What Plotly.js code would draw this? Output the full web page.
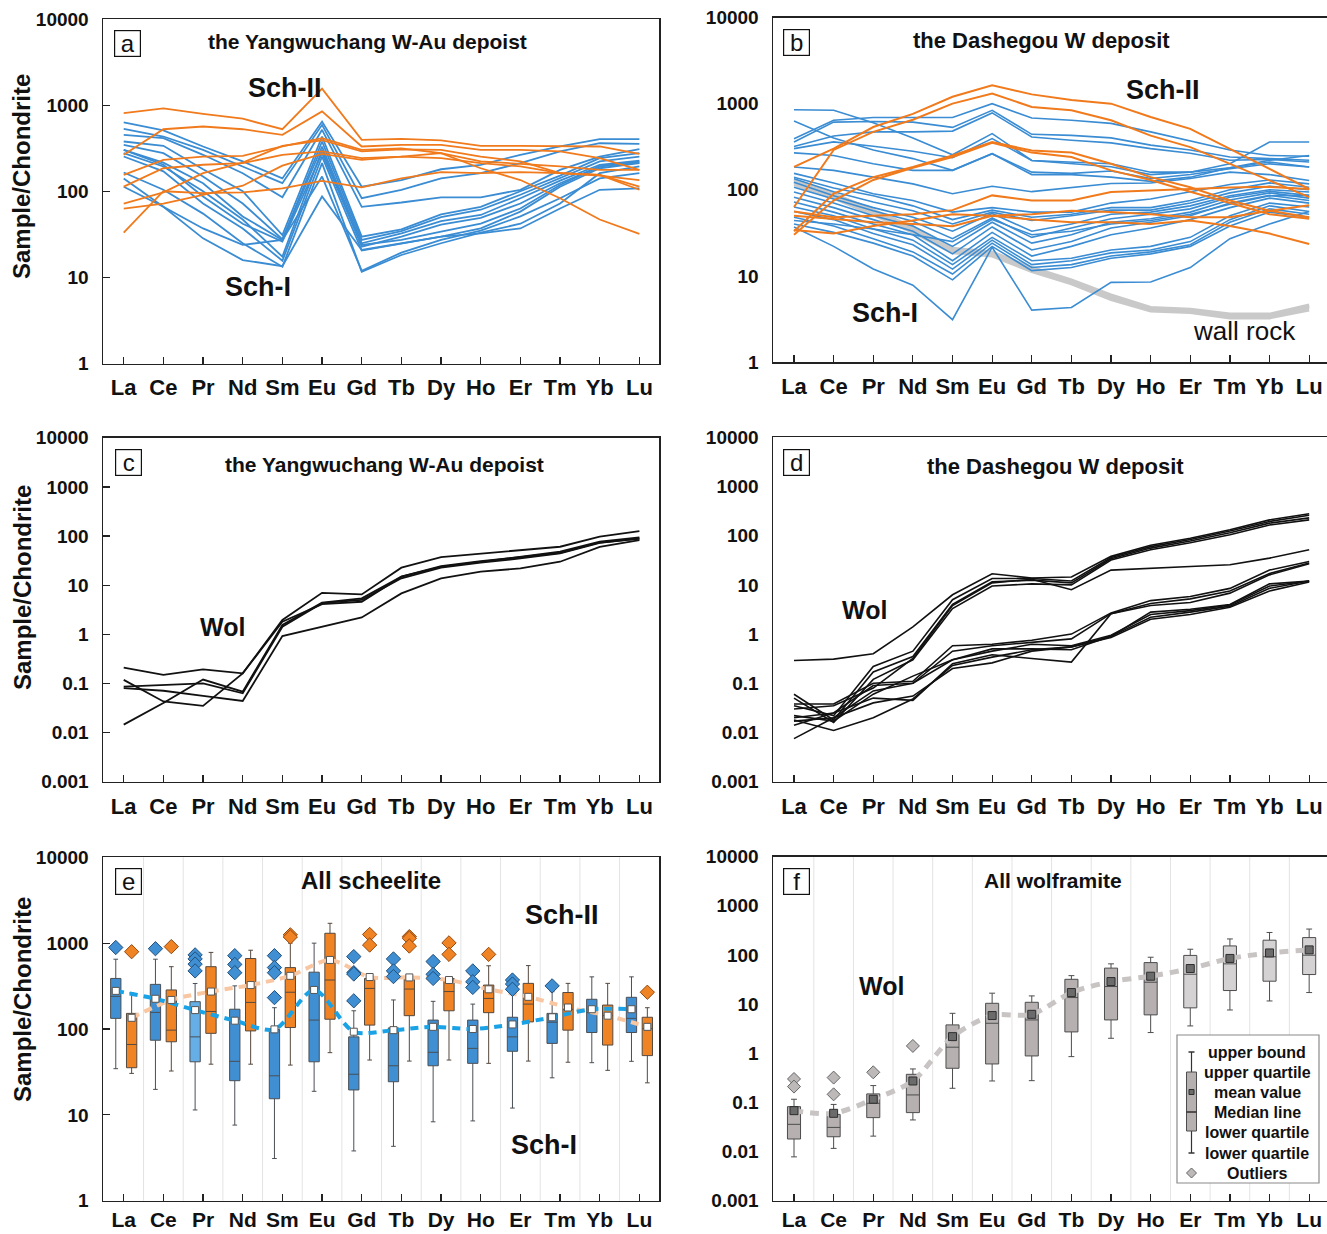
<!DOCTYPE html>
<html>
<head>
<meta charset="utf-8">
<script src="https://cdn.plot.ly/plotly-3.0.1.min.js"></script>
<style>html,body{margin:0;padding:0;background:#fff}</style>
</head>
<body>
<div id="chart" style="width:1327px;height:1234px"></div>
<script>
// ---------- data: chondrite-normalised REE ----------
const ree = ['La','Ce','Pr','Nd','Sm','Eu','Gd','Tb','Dy','Ho','Er','Tm','Yb','Lu'];

// (a) Yangwuchang scheelite
const yangSchI = [
  [629, 510, 331, 222, 141, 645, 113, 135, 180, 203, 265, 331, 402, 402],
  [530, 432, 302, 194, 124, 590, 83, 104, 141, 162, 212, 290, 361, 355],
  [452, 413, 265, 162, 85, 517, 66, 74, 85, 85, 104, 177, 253, 308],
  [378, 337, 180, 100, 31, 432, 29.7, 36, 54, 66, 100, 152, 242, 277],
  [346, 277, 148, 72, 27.7, 378, 27.2, 34.5, 50, 61, 91, 141, 222, 253],
  [302, 215, 124, 51, 27.2, 331, 24.9, 32.5, 45, 53, 83, 133, 203, 227],
  [277, 194, 100, 47, 17.4, 302, 22.7, 29.7, 41, 49, 72, 124, 194, 222],
  [253, 170, 72, 37, 15.6, 253, 20.5, 24.9, 29.7, 37, 58, 113, 185, 212],
  [165, 104, 55, 24.9, 13.3, 212, 11.6, 18.2, 24.9, 33, 42, 72, 162, 194],
  [141, 66, 37, 23.8, 27.2, 148, 11.9, 19.4, 27.2, 35, 51, 83, 141, 162],
  [113, 66, 28.4, 15.9, 13.5, 87, 20.8, 24.9, 29.7, 32.5, 37, 63, 104, 108],
  [302, 203, 87, 42, 26, 277, 23.8, 27.2, 34, 42, 63, 118, 194, 215]
];
const yangSchII = [
  [807, 915, 790, 695, 525, 1550, 395, 405, 390, 337, 337, 337, 331, 272],
  [265, 525, 565, 525, 452, 845, 331, 346, 346, 302, 302, 290, 242, 177],
  [113, 185, 203, 212, 265, 290, 242, 253, 277, 222, 208, 194, 177, 177],
  [72, 97, 162, 215, 337, 391, 290, 307, 302, 253, 222, 162, 155, 113],
  [63, 72, 91, 116, 198, 272, 231, 253, 242, 212, 194, 162, 155, 104],
  [33, 100, 95, 97, 108, 132, 111, 141, 167, 162, 167, 162, 152, 135],
  [155, 231, 253, 258, 331, 413, 302, 315, 277, 185, 135, 83, 47, 32]
];

// (b) Dashegou scheelite and wall rock
const dashWallRock = [
  [130, 90, 58, 37, 21, 19, 12.5, 9.0, 6.0, 4.3, 4.1, 3.6, 3.6, 4.6],
  [122, 84, 54, 34, 19.5, 17.8, 11.8, 8.5, 5.6, 4.1, 3.9, 3.4, 3.4, 4.3],
  [115, 80, 51, 32, 18.5, 17, 11.2, 8.1, 5.3, 3.9, 3.75, 3.25, 3.25, 4.0],
  [126, 87, 56, 35, 20, 18.4, 12.1, 8.7, 5.8, 4.2, 4.0, 3.5, 3.5, 4.45]
];
const dashSchI = [
  [850, 836, 600, 400, 255, 448, 219, 210, 200, 160, 160, 180, 220, 250],
  [630, 400, 290, 230, 168, 262, 150, 150, 140, 125, 140, 180, 210, 184],
  [392, 640, 690, 690, 690, 1000, 680, 640, 590, 470, 370, 290, 250, 245],
  [358, 610, 620, 610, 530, 836, 440, 428, 400, 330, 290, 240, 230, 220],
  [318, 420, 470, 470, 480, 780, 410, 375, 350, 300, 265, 220, 225, 210],
  [300, 360, 320, 280, 235, 392, 219, 200, 185, 150, 160, 200, 358, 358],
  [268, 250, 200, 168, 168, 262, 160, 155, 165, 135, 150, 175, 200, 184],
  [184, 168, 140, 117, 90, 110, 95, 105, 118, 120, 135, 160, 150, 128],
  [155, 120, 90, 75, 55, 62, 55, 55, 70, 78, 95, 115, 130, 117],
  [140, 105, 85, 65, 45, 58, 48, 52, 62, 62, 75, 100, 120, 107],
  [134, 95, 72, 57, 40, 55, 44, 50, 58, 58, 70, 92, 110, 100],
  [122, 85, 62, 48, 33, 53, 33, 40, 52, 55, 65, 85, 100, 94],
  [107, 78, 57, 43, 27, 47, 28, 36, 46, 52, 60, 82, 96, 86],
  [94, 70, 50, 38, 22, 42, 24, 30, 42, 46, 55, 76, 92, 80],
  [82, 62, 45, 33, 18, 37, 20, 25, 36, 42, 50, 70, 86, 75],
  [72, 55, 40, 30, 15, 32, 17, 22, 30, 36, 45, 62, 80, 70],
  [63, 50, 35, 26, 13.5, 28, 15, 16, 20, 22, 28, 50, 70, 63],
  [56, 45, 31, 23, 12, 26, 13.5, 15, 18.5, 20, 25, 45, 65, 56],
  [48, 38, 27, 19, 10.5, 24, 12.5, 13.5, 17, 19, 23, 42, 60, 52],
  [40, 32, 24, 17, 9, 22, 11.5, 12.5, 16, 18, 22, 38, 55, 48],
  [37, 22, 12, 7.8, 3.1, 21.5, 4.0, 4.3, 8.4, 8.5, 12.5, 27, 40, 56],
  [44, 40, 35, 30, 25, 45, 30, 33, 40, 44, 52, 68, 85, 86]
];
const dashSchII = [
  [184, 300, 535, 760, 1200, 1634, 1280, 1100, 1000, 700, 510, 300, 175, 102],
  [63, 290, 470, 650, 1000, 1307, 915, 836, 640, 425, 313, 200, 128, 82],
  [33, 90, 140, 184, 250, 358, 285, 270, 200, 140, 107, 75, 57, 48],
  [30, 75, 130, 180, 240, 350, 270, 240, 168, 130, 95, 70, 52, 46],
  [56, 48, 50, 52, 58, 86, 75, 75, 94, 98, 102, 106, 108, 102],
  [34, 31, 38, 44, 52, 50, 52, 57, 55, 52, 48, 48, 57, 66],
  [50, 46, 42, 40, 37.7, 50, 45, 42, 42, 40, 44, 38, 31, 23.5]
];

// (c) Yangwuchang wolframite
const yangWol = [
  [0.21, 0.149, 0.194, 0.16, 1.96, 7.0, 6.5, 22.7, 37.4, 44, 52, 60.6, 97, 126],
  [0.118, 0.043, 0.035, 0.16, 1.8, 4.1, 4.6, 14.9, 24.5, 31, 37, 45.7, 74, 89],
  [0.0145, 0.04, 0.12, 0.068, 1.55, 4.4, 5.4, 14.9, 23.7, 30, 38, 48, 77, 94],
  [0.086, 0.093, 0.1, 0.063, 1.43, 4.3, 5.0, 13.8, 22.7, 28.7, 35, 44.5, 73, 89],
  [0.08, 0.071, 0.056, 0.044, 0.92, 1.43, 2.2, 6.8, 13.8, 18.8, 22, 30, 60, 83]
];

// (d) Dashegou wolframite
const dashWol = [
  [0.29, 0.31, 0.4, 1.4, 6.3, 16.8, 13.8, 14.5, 38, 64, 89, 132, 210, 280],
  [0.035, 0.022, 0.22, 0.45, 5.0, 13.5, 13.5, 12.0, 36, 60, 84, 125, 195, 260],
  [0.06, 0.018, 0.17, 0.35, 4.0, 11.5, 12.5, 11.0, 34, 56, 78, 115, 180, 230],
  [0.05, 0.016, 0.12, 0.3, 3.3, 9.5, 10.5, 10.0, 32, 52, 72, 105, 165, 210],
  [0.03, 0.035, 0.08, 0.32, 3.8, 11.0, 13.0, 8.0, 20, 22, 23.7, 25.7, 35, 52],
  [0.038, 0.038, 0.1, 0.11, 0.58, 0.62, 0.75, 1.0, 2.7, 4.8, 5.8, 8.5, 20, 30],
  [0.02, 0.025, 0.09, 0.1, 0.45, 0.58, 0.68, 0.8, 2.6, 4.2, 5.2, 7.5, 17, 28],
  [0.017, 0.02, 0.07, 0.1, 0.3, 0.5, 0.5, 0.48, 0.9, 2.8, 3.2, 4.0, 10.5, 12],
  [0.014, 0.025, 0.05, 0.045, 0.25, 0.38, 0.32, 0.27, 2.6, 3.8, 4.4, 6.8, 16, 27],
  [0.0075, 0.02, 0.04, 0.055, 0.2, 0.26, 0.45, 0.55, 0.85, 2.0, 2.5, 3.5, 7.5, 11.5],
  [0.018, 0.011, 0.02, 0.048, 0.23, 0.34, 0.48, 0.55, 0.9, 2.2, 2.8, 3.7, 8.5, 12],
  [0.022, 0.017, 0.06, 0.14, 0.3, 0.45, 0.62, 0.58, 0.95, 2.5, 3.0, 3.9, 9.5, 12]
];

// (e) all scheelite: box statistics per element
const schIUpper  = [650, 650, 339, 318, 177, 1000, 163, 218, 210, 195, 254, 272, 405, 405];
const schIQ3     = [388, 331, 208, 170, 99, 459, 81, 103, 127, 127, 137, 152, 222, 234];
const schIMedian = [240, 156, 81, 42, 28.5, 127, 29.7, 37.3, 53.5, 59.5, 81, 120, 155, 133];
const schIQ1     = [133, 74, 41.5, 25, 15.4, 41.5, 19.5, 24.3, 37.3, 39.8, 55, 68, 91, 91];
const schILower  = [34.5, 19.8, 11.4, 7.6, 3.1, 18.8, 3.8, 4.3, 8.3, 8.5, 12, 27, 40.5, 42];
const schIMean   = [278, 225, 166, 125, 99, 285, 93, 97, 106, 100, 113, 137, 170, 170];
const schIOutliers = [[890], [862], [730, 655, 570, 475], [715, 565, 453], [715, 520, 453, 232], [],
  [697, 453, 437, 213], [655, 475, 408], [611, 433, 388], [475, 355, 305], [372, 334, 290], [318], [], []];

const schIIUpper  = [263, 532, 780, 827, 1000, 1703, 410, 405, 400, 545, 548, 340, 340, 177];
const schIIQ3     = [152, 285, 532, 662, 519, 1303, 388, 399, 388, 325, 340, 266, 190, 137];
const schIIMedian = [66, 97, 160, 204, 268, 372, 297, 292, 273, 227, 195, 170, 143, 101];
const schIIQ1     = [35.4, 71, 89, 95, 104, 130, 111, 143, 163, 155, 121, 97, 65, 49];
const schIILower  = [30.4, 32.4, 38.9, 38.9, 38, 53, 43.5, 42.3, 43.5, 39.8, 42.3, 41, 33, 23.6];
const schIIMean   = [135, 218, 273, 325, 416, 637, 403, 399, 372, 290, 237, 178, 143, 106];
const schIIOutliers = [[795], [911], [], [], [1250, 1180], [], [1263, 950], [1191, 1140, 925],
  [1007, 740], [740], [], [], [], [268]];

// (f) all wolframite
const wolUpper  = [0.116, 0.091, 0.22, 0.48, 6.5, 16.7, 14.7, 38, 66, 90, 131, 212, 287, 337];
const wolQ3     = [0.082, 0.057, 0.149, 0.373, 3.78, 10.4, 10.9, 32, 54, 70, 98, 153, 200, 226];
const wolMedian = [0.0358, 0.031, 0.096, 0.142, 1.33, 4.08, 4.77, 13.6, 22.8, 27.9, 40.6, 66, 92, 99];
const wolQ1     = [0.018, 0.02, 0.049, 0.062, 0.495, 0.606, 0.882, 2.72, 4.77, 6.04, 8.4, 18.9, 29.3, 40];
const wolLower  = [0.0078, 0.0116, 0.0206, 0.044, 0.194, 0.273, 0.277, 0.855, 2.02, 2.64, 3.6, 7.6, 11.6, 17.2];
const wolMean   = [0.068, 0.06, 0.116, 0.273, 2.18, 5.85, 6.2, 17.2, 28.8, 37, 53, 85, 110, 127];
const wolOutliers = [[0.30, 0.21], [0.32, 0.146], [0.41], [1.41], [], [], [], [], [], [], [], [], [], []];

const ticksWide = [1, 10, 100, 1000, 10000];
const ticksFull = [0.001, 0.01, 0.1, 1, 10, 100, 1000, 10000];

// ---------- styling ----------
const W = 1327, H = 1234;
const px = v => v / W;
const py = v => 1 - v / H;
const FONT = 'Liberation Sans, Arial, sans-serif';
const INK = '#111111';
const BLUE = '#3a8cd3';
const ORANGE = '#f07a1c';
const idx = ree.map((_, i) => i);

const traces = [];
function lineSet(rows, xa, ya, color, width) {
  rows.forEach(r => traces.push({
    type: 'scatter', mode: 'lines', x: idx, y: r, xaxis: xa, yaxis: ya,
    line: {color: color, width: width}, hoverinfo: 'skip', showlegend: false
  }));
}

lineSet(yangSchI, 'x', 'y', BLUE, 1.8);
lineSet(yangSchII, 'x', 'y', ORANGE, 1.8);
lineSet(dashWallRock, 'x2', 'y2', '#c9c9c9', 3);
lineSet(dashSchI, 'x2', 'y2', BLUE, 1.6);
lineSet(dashSchII, 'x2', 'y2', ORANGE, 2);
lineSet(yangWol, 'x3', 'y3', INK, 1.8);
lineSet(dashWol, 'x4', 'y4', INK, 1.6);

// box-plot helpers
function meanCurve(shift, means, xa, ya, color, width, dash) {
  traces.push({type: 'scatter', mode: 'lines', x: idx.map(i => i + shift), y: means,
    xaxis: xa, yaxis: ya, line: {color: color, width: width, dash: dash, shape: 'spline', smoothing: 0.8},
    hoverinfo: 'skip', showlegend: false});
}
function boxSet(st, shift, xa, ya, fills, lineColor, width) {
  idx.forEach(i => traces.push({
    type: 'box', x: [i + shift], q1: [st.q1[i]], median: [st.med[i]], q3: [st.q3[i]],
    lowerfence: [st.lo[i]], upperfence: [st.hi[i]], width: width, whiskerwidth: 0.45,
    fillcolor: fills[i], line: {color: lineColor, width: 1}, boxpoints: false,
    xaxis: xa, yaxis: ya, hoverinfo: 'skip', showlegend: false
  }));
}
function meanMarks(shift, means, xa, ya, fill, edge, size) {
  traces.push({type: 'scatter', mode: 'markers', x: idx.map(i => i + shift), y: means,
    xaxis: xa, yaxis: ya, marker: {symbol: 'square', size: size, color: fill, line: {color: edge, width: 1}},
    hoverinfo: 'skip', showlegend: false});
}
function outlierMarks(shift, lists, xa, ya, fill, edge, size) {
  const xs = [], ys = [];
  lists.forEach((vals, i) => vals.forEach(v => { xs.push(i + shift); ys.push(v); }));
  traces.push({type: 'scatter', mode: 'markers', x: xs, y: ys, xaxis: xa, yaxis: ya,
    marker: {symbol: 'diamond', size: size, color: fill, line: {color: edge, width: 1}},
    hoverinfo: 'skip', showlegend: false});
}

// (e)
const sI = -0.2, sII = 0.2;
meanCurve(sII, schIIMean, 'x5', 'y5', '#f9c6a2', 4, '8px,6px');
meanCurve(sI, schIMean, 'x5', 'y5', '#1aa2e6', 4, '8px,6px');
const schIFill = ree.map(e => e === 'Pr' ? '#66afe6' : '#3f8fd2');
const schIIFill = ree.map(() => '#f08324');
boxSet({hi: schIUpper, q3: schIQ3, med: schIMedian, q1: schIQ1, lo: schILower}, sI, 'x5', 'y5', schIFill, '#4a4f55', 0.26);
boxSet({hi: schIIUpper, q3: schIIQ3, med: schIIMedian, q1: schIIQ1, lo: schIILower}, sII, 'x5', 'y5', schIIFill, '#55493f', 0.26);
meanMarks(sI, schIMean, 'x5', 'y5', '#ffffff', '#555555', 7);
meanMarks(sII, schIIMean, 'x5', 'y5', '#ffffff', '#555555', 7);
outlierMarks(sI, schIOutliers, 'x5', 'y5', '#3f8fd2', '#21507c', 11);
outlierMarks(sII, schIIOutliers, 'x5', 'y5', '#f08324', '#94480c', 11);

// (f)
meanCurve(0, wolMean, 'x6', 'y6', '#c9c4c4', 5, '9px,7px');
const wolFill = ree.map((e, i) => i >= 10 ? '#d4d2d2' : '#b6b0b0');
boxSet({hi: wolUpper, q3: wolQ3, med: wolMedian, q1: wolQ1, lo: wolLower}, 0, 'x6', 'y6', wolFill, '#4d4d4d', 0.33);
meanMarks(0, wolMean, 'x6', 'y6', '#6b6b6b', '#2e2e2e', 8);
outlierMarks(0, wolOutliers, 'x6', 'y6', '#bdb9b9', '#666666', 10);

// ---------- axes ----------
const tickFontY = {family: FONT, size: 19, color: INK, weight: 'bold'};
function xAxis(x0, x1, range, anchor, standoff, size) {
  return {domain: [px(x0), px(x1)], range: range, anchor: anchor,
    tickmode: 'array', tickvals: idx, ticktext: ree, ticks: 'inside', ticklen: 7, tickwidth: 1.2,
    tickcolor: '#222', showline: true, linecolor: '#222', linewidth: 1.5, mirror: true,
    showgrid: false, zeroline: false, tickfont: {family: FONT, size: size, color: INK, weight: 'bold'},
    ticklabelstandoff: standoff, fixedrange: true};
}
function yAxis(top, bottom, range, anchor, vals, leftCol) {
  return {type: 'log', domain: [py(bottom), py(top)], range: range, anchor: anchor,
    tickmode: 'array', tickvals: vals, ticktext: vals.map(String),
    ticks: leftCol ? 'inside' : '', ticklen: 7, tickwidth: 1.2, tickcolor: '#222',
    showline: true, linecolor: '#222', linewidth: 1.5, mirror: leftCol,
    showgrid: false, zeroline: false, tickfont: tickFontY, ticklabelstandoff: 9, fixedrange: true};
}
const rangeL = [-0.522, 13.494], rangeR = [-0.53, 13.45];

const layout = {
  width: W, height: H, margin: {l: 0, r: 0, t: 0, b: 0},
  paper_bgcolor: '#ffffff', plot_bgcolor: 'rgba(0,0,0,0)', showlegend: false,
  boxmode: 'overlay',
  xaxis:  xAxis(103, 659, rangeL, 'y', 4, 22),
  yaxis:  yAxis(19, 363.5, [0, 4], 'x', ticksWide, true),
  xaxis2: xAxis(773, 1327, rangeR, 'y2', 4, 22),
  yaxis2: yAxis(17.5, 362, [0, 4], 'x2', ticksWide, false),
  xaxis3: xAxis(103, 659, rangeL, 'y3', 4, 22),
  yaxis3: yAxis(437.8, 781.7, [-3, 4], 'x3', ticksFull, true),
  xaxis4: xAxis(773, 1327, rangeR, 'y4', 4, 22),
  yaxis4: yAxis(437.3, 781.7, [-3, 4], 'x4', ticksFull, false),
  xaxis5: xAxis(103, 659, rangeL, 'y5', 0, 21),
  yaxis5: yAxis(857.3, 1200.7, [0, 4], 'x5', ticksWide, true),
  xaxis6: xAxis(773, 1327, rangeR, 'y6', 0, 21),
  yaxis6: yAxis(856.7, 1200.7, [-3, 4], 'x6', ticksFull, false),
  shapes: [],
  annotations: []
};

// category separators in the summary panels
[['x5', 'y5'], ['x6', 'y6']].forEach(([xa, ya]) => {
  for (let i = 0; i < ree.length - 1; i++) {
    layout.shapes.push({type: 'line', xref: xa, yref: ya + ' domain', x0: i + 0.5, x1: i + 0.5, y0: 0, y1: 1,
      line: {color: '#e3e3e3', width: 1}, layer: 'below'});
  }
});

// text helpers
function label(text, x, y, size, bold, extra) {
  layout.annotations.push(Object.assign({
    text: text, xref: 'paper', yref: 'paper', x: px(x), y: py(y), xanchor: 'center', yanchor: 'middle',
    showarrow: false, font: {family: FONT, size: size, color: INK, weight: bold ? 'bold' : 'normal'}
  }, extra || {}));
}
function panelTag(letter, x, y) {
  label(letter, x, y, 24, false, {bordercolor: INK, borderwidth: 1.2, borderpad: 0, width: 25, height: 25,
    align: 'center', valign: 'middle'});
}

panelTag('a', 127.5, 43.5);
label('the Yangwuchang W-Au depoist', 367, 42, 21, true);
label('Sch-II', 285, 88, 27, true);
label('Sch-I', 258, 287, 27, true);

panelTag('b', 796, 42.5);
label('the Dashegou W deposit', 1041, 40, 22, true);
label('Sch-II', 1163, 90, 27, true);
label('Sch-I', 885, 313, 27, true);
label('wall rock', 1244, 331, 26, false);

panelTag('c', 128, 462);
label('the Yangwuchang W-Au depoist', 384, 464, 21, true);
label('Wol', 222, 627, 25, true);

panelTag('d', 796, 463);
label('the Dashegou W deposit', 1055, 466, 22, true);
label('Wol', 864, 610, 25, true);

panelTag('e', 128, 881);
label('All scheelite', 371, 880, 24, true);
label('Sch-II', 562, 915, 27, true);
label('Sch-I', 544, 1145, 27, true);

panelTag('f', 796, 881);
label('All wolframite', 1053, 880, 21, true);
label('Wol', 881, 986, 25, true);

// y-axis titles of the left column
[177, 588, 1000].forEach(yc => label('Sample/Chondrite', 22, yc, 24, true, {textangle: -90}));

// key for the wolframite summary
const keyShapes = [
  {type: 'rect', x0: 1177, x1: 1319, y0: 1035, y1: 1183, fill: '#ffffff', line: '#8a8a8a', w: 1.2},
  {type: 'line', x0: 1191.5, x1: 1191.5, y0: 1052, y1: 1153, line: '#333333', w: 1.2},
  {type: 'line', x0: 1188.5, x1: 1194.5, y0: 1052, y1: 1052, line: '#333333', w: 1.5},
  {type: 'line', x0: 1188.5, x1: 1194.5, y0: 1153, y1: 1153, line: '#333333', w: 1.5},
  {type: 'rect', x0: 1186.5, x1: 1196.5, y0: 1072, y1: 1131, fill: '#b6b0b0', line: '#4d4d4d', w: 1},
  {type: 'line', x0: 1186.5, x1: 1196.5, y0: 1112, y1: 1112, line: '#2e2e2e', w: 1.5},
  {type: 'rect', x0: 1189, x1: 1194, y0: 1089.5, y1: 1094.5, fill: '#6b6b6b', line: '#2e2e2e', w: 1}
];
keyShapes.forEach(s => layout.shapes.push({
  type: s.type, xref: 'paper', yref: 'paper', x0: px(s.x0), x1: px(s.x1), y0: py(s.y0), y1: py(s.y1),
  fillcolor: s.fill, line: {color: s.line, width: s.w}, layer: 'above'
}));
const dia = [[1191.5, 1168], [1196.5, 1173], [1191.5, 1178], [1186.5, 1173]];
layout.shapes.push({type: 'path', xref: 'paper', yref: 'paper', layer: 'above',
  path: 'M' + dia.map(p => px(p[0]) + ',' + py(p[1])).join('L') + 'Z',
  fillcolor: '#bdb9b9', line: {color: '#666666', width: 1}});
[['upper bound', 1052], ['upper quartile', 1072], ['mean value', 1092], ['Median line', 1112],
 ['lower quartile', 1132], ['lower quartile', 1153], ['Outliers', 1173]]
  .forEach(([t, y]) => label(t, 1257, y, 16, true));

Plotly.newPlot('chart', traces, layout, {staticPlot: true, displayModeBar: false});
</script>
</body>
</html>
